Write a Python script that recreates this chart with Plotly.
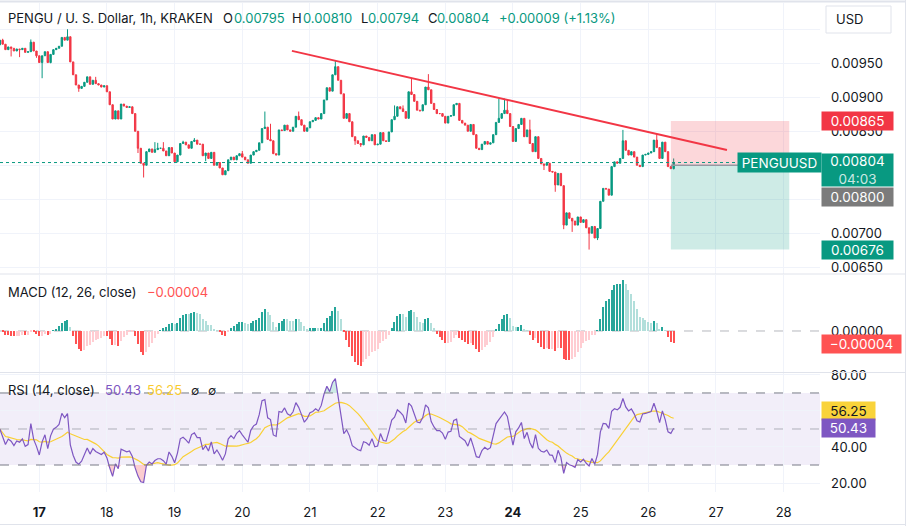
import pandas as pd
import plotly.graph_objects as go
from datetime import datetime, timedelta

# ---------------- data ----------------
first_open = 0.00977
candle_start = datetime(2025, 2, 16, 10)  # first hourly candle
closes_feb16 = [0.00984, 0.00978, 0.00970, 0.00974, 0.00972, 0.00968, 0.00971, 0.00970, 0.00972, 0.00966, 0.00967, 0.00981, 0.00968, 0.00961]
closes_feb17 = [0.00951, 0.00961, 0.00967, 0.00951, 0.00963, 0.00970, 0.00972, 0.00975, 0.00988, 0.00984, 0.00989, 0.00952, 0.00933, 0.00918, 0.00913, 0.00916, 0.00922, 0.00930, 0.00919, 0.00925, 0.00920, 0.00918, 0.00915, 0.00917]
closes_feb18 = [0.00908, 0.00889, 0.00868, 0.00880, 0.00868, 0.00890, 0.00887, 0.00885, 0.00886, 0.00876, 0.00850, 0.00825, 0.00803, 0.00800, 0.00820, 0.00824, 0.00819, 0.00823, 0.00825, 0.00825, 0.00821, 0.00814, 0.00826, 0.00818]
closes_feb19 = [0.00805, 0.00815, 0.00832, 0.00834, 0.00830, 0.00825, 0.00835, 0.00837, 0.00831, 0.00831, 0.00814, 0.00818, 0.00810, 0.00819, 0.00800, 0.00804, 0.00796, 0.00786, 0.00792, 0.00808, 0.00812, 0.00808, 0.00814, 0.00817]
closes_feb20 = [0.00812, 0.00808, 0.00803, 0.00815, 0.00820, 0.00822, 0.00833, 0.00854, 0.00856, 0.00838, 0.00836, 0.00817, 0.00815, 0.00852, 0.00851, 0.00859, 0.00852, 0.00850, 0.00856, 0.00872, 0.00867, 0.00859, 0.00850, 0.00855]
closes_feb21 = [0.00864, 0.00866, 0.00870, 0.00868, 0.00876, 0.00896, 0.00914, 0.00909, 0.00933, 0.00945, 0.00925, 0.00905, 0.00869, 0.00876, 0.00864, 0.00842, 0.00836, 0.00832, 0.00830, 0.00843, 0.00841, 0.00836, 0.00845, 0.00830]
closes_feb22 = [0.00831, 0.00848, 0.00836, 0.00835, 0.00849, 0.00867, 0.00872, 0.00886, 0.00883, 0.00879, 0.00869, 0.00908, 0.00904, 0.00894, 0.00881, 0.00880, 0.00889, 0.00915, 0.00911, 0.00891, 0.00882, 0.00876, 0.00876, 0.00872]
closes_feb23 = [0.00862, 0.00872, 0.00873, 0.00889, 0.00891, 0.00866, 0.00862, 0.00859, 0.00850, 0.00860, 0.00845, 0.00825, 0.00823, 0.00831, 0.00835, 0.00831, 0.00833, 0.00845, 0.00863, 0.00869, 0.00876, 0.00881, 0.00876, 0.00857]
closes_feb24 = [0.00835, 0.00854, 0.00860, 0.00869, 0.00842, 0.00852, 0.00832, 0.00820, 0.00842, 0.00810, 0.00802, 0.00800, 0.00803, 0.00791, 0.00790, 0.00771, 0.00788, 0.00770, 0.00712, 0.00730, 0.00722, 0.00718, 0.00712, 0.00724]
closes_feb25 = [0.00716, 0.00720, 0.00708, 0.00700, 0.00710, 0.00693, 0.00707, 0.00747, 0.00766, 0.00765, 0.00756, 0.00798, 0.00805, 0.00803, 0.00810, 0.00836, 0.00822, 0.00815, 0.00820, 0.00812, 0.00800, 0.00798, 0.00815, 0.00816]
closes_feb26 = [0.00818, 0.00820, 0.00837, 0.00826, 0.00810, 0.00834, 0.00820, 0.00798, 0.00795, 0.00804]

# visible wick extremes (others: no visible wick)
wick_highs = {
    "2025-02-16 11:00": 0.00986, "2025-02-16 21:00": 0.00985, "2025-02-17 10:00": 0.01000,
    "2025-02-17 20:00": 0.00930, "2025-02-18 06:00": 0.00890, "2025-02-18 17:00": 0.00834,
    "2025-02-18 18:00": 0.00833, "2025-02-18 20:00": 0.00834, "2025-02-19 03:00": 0.00836,
    "2025-02-19 07:00": 0.00840, "2025-02-20 00:00": 0.00821, "2025-02-20 08:00": 0.00879,
    "2025-02-20 10:00": 0.00861, "2025-02-20 20:00": 0.00879, "2025-02-21 09:00": 0.00954,
    "2025-02-22 06:00": 0.00888, "2025-02-22 09:00": 0.00888, "2025-02-22 12:00": 0.00928,
    "2025-02-22 18:00": 0.00934, "2025-02-23 19:00": 0.00898, "2025-02-23 21:00": 0.00898,
    "2025-02-23 22:00": 0.00896, "2025-02-24 06:00": 0.00867, "2025-02-25 15:00": 0.00852,
    "2025-02-26 03:00": 0.00846, "2025-02-26 09:00": 0.00810,
}
wick_lows = {
    "2025-02-16 14:00": 0.00960, "2025-02-16 17:00": 0.00959, "2025-02-16 23:00": 0.00958,
    "2025-02-17 01:00": 0.00928, "2025-02-17 04:00": 0.00950, "2025-02-17 14:00": 0.00908,
    "2025-02-18 11:00": 0.00818, "2025-02-18 13:00": 0.00782, "2025-02-19 11:00": 0.00806,
    "2025-02-21 16:00": 0.00830, "2025-02-21 18:00": 0.00827, "2025-02-24 11:00": 0.00793,
    "2025-02-24 15:00": 0.00761, "2025-02-24 18:00": 0.00706, "2025-02-24 21:00": 0.00702,
    "2025-02-25 03:00": 0.00676, "2025-02-25 06:00": 0.00690, "2025-02-26 09:00": 0.00794,
}

price_ticks = [0.00650, 0.00700, 0.00750, 0.00800, 0.00850, 0.00900, 0.00950, 0.01000]
price_ticks_hidden = [0.00750, 0.00800, 0.01000]   # covered by labels in the reference
rsi_ticks = [20, 40, 60, 80]
rsi_ticks_hidden = [60]
day_ticks = [17, 18, 19, 20, 21, 22, 23, 24, 25, 26, 27, 28]
bold_days = [17, 24]
last_price = 0.00804
countdown = "04:03"
trend_points = [(datetime(2025, 2, 20, 17, 36), 0.009682), (datetime(2025, 2, 27, 3, 54), 0.008225)]
position = dict(start=datetime(2025, 2, 26, 8), end=datetime(2025, 2, 28, 2), entry=0.00800, stop=0.00865, target=0.00676)
macd_last = -0.00004
rsi_last, rsi_ma_last = 50.43, 56.25
header_ohlc = dict(O="0.00795", H="0.00810", L="0.00794", C="0.00804", chg="+0.00009 (+1.13%)")

# ---------------- build series ----------------
closes = (closes_feb16 + closes_feb17 + closes_feb18 + closes_feb19 + closes_feb20 + closes_feb21
          + closes_feb22 + closes_feb23 + closes_feb24 + closes_feb25 + closes_feb26)
times = pd.date_range(candle_start, periods=len(closes), freq="h")
opens = [first_open] + closes[:-1]
highs, lows = [], []
for t, o, c in zip(times, opens, closes):
    k = t.strftime("%Y-%m-%d %H:%M")
    highs.append(max(o, c, wick_highs.get(k, 0)))
    lows.append(min(o, c, wick_lows.get(k, 1)))

# MACD (12, 26, 9) histogram
s = pd.Series(closes)
macd = s.ewm(span=12, adjust=False).mean() - s.ewm(span=26, adjust=False).mean()
signal = macd.ewm(span=9, adjust=False).mean()
hist = (macd - signal).tolist()
hist_colors = []
prev = 0.0
for v in hist:
    if v >= 0:
        hist_colors.append("#26A69A" if v > prev else "#B2DFDB")
    else:
        hist_colors.append("#FF5252" if v < prev else "#FFCDD2")
    prev = v

# RSI (14) with Wilder smoothing, neutral start, and its 14-bar SMA
deltas = s.diff().fillna(0).tolist()
seed = sum(abs(d) for d in deltas[1:15]) / 14 / 2
ag, al = seed, seed
rsi = []
for d in deltas:
    ag = (ag * 13 + max(d, 0)) / 14
    al = (al * 13 + max(-d, 0)) / 14
    rsi.append(100 - 100 / (1 + ag / al) if al > 0 else 100)
rsi_ma = pd.Series(rsi).rolling(14, min_periods=1).mean().tolist()

# ---------------- geometry ----------------
W, H = 912, 526
def px(x): return x / W
def py(y): return 1 - y / H

base = datetime(2025, 2, 17)
x_range = [base + timedelta(hours=-13.94), base + timedelta(hours=276.9)]
XD = [0, px(820)]
FONT = "Inter, Roboto, sans-serif"
TXT = "#131722"
UP, DOWN = "#089981", "#F23645"
GRID = "#F0F3FA"

fig = go.Figure()
fig.add_trace(go.Candlestick(
    x=times, open=opens, high=highs, low=lows, close=closes, xaxis="x", yaxis="y",
    increasing=dict(line=dict(color=UP, width=1), fillcolor=UP),
    decreasing=dict(line=dict(color=DOWN, width=1), fillcolor=DOWN),
    whiskerwidth=0, hoverinfo="skip", showlegend=False))

fig.add_trace(go.Bar(x=times, y=hist, marker=dict(color=hist_colors, line=dict(width=0)),
                     width=0.45 * 3600 * 1000, xaxis="x2", yaxis="y2", showlegend=False, hoverinfo="skip"))

fig.add_trace(go.Scatter(x=times, y=[30] * len(rsi), mode="lines", line=dict(width=0), xaxis="x3", yaxis="y3",
                         showlegend=False, hoverinfo="skip"))
fig.add_trace(go.Scatter(x=times, y=[min(v, 30) for v in rsi], mode="lines", line=dict(width=0), fill="tonexty",
                         fillcolor="rgba(242,54,69,0.25)", xaxis="x3", yaxis="y3", showlegend=False, hoverinfo="skip"))
fig.add_trace(go.Scatter(x=times, y=[70] * len(rsi), mode="lines", line=dict(width=0), xaxis="x3", yaxis="y3",
                         showlegend=False, hoverinfo="skip"))
fig.add_trace(go.Scatter(x=times, y=[max(v, 70) for v in rsi], mode="lines", line=dict(width=0), fill="tonexty",
                         fillcolor="rgba(8,153,129,0.2)", xaxis="x3", yaxis="y3", showlegend=False, hoverinfo="skip"))
fig.add_trace(go.Scatter(x=times, y=rsi_ma, mode="lines", line=dict(color="#F9D035", width=1.2), xaxis="x3", yaxis="y3",
                         showlegend=False, hoverinfo="skip"))
fig.add_trace(go.Scatter(x=times, y=rsi, mode="lines", line=dict(color="#7E57C2", width=1.2), xaxis="x3", yaxis="y3",
                         showlegend=False, hoverinfo="skip"))

tickvals = [base + timedelta(days=d - 17) for d in day_ticks]
ticktext = [f"<b>{d}</b>" if d in bold_days else str(d) for d in day_ticks]
price_text = ["" if v in price_ticks_hidden else f"{v:.5f}" for v in price_ticks]
rsi_text = ["" if v in rsi_ticks_hidden else f"{v:.2f}" for v in rsi_ticks]
common_x = dict(range=x_range, showgrid=True, gridcolor=GRID, gridwidth=1, zeroline=False, tickvals=tickvals,
                showline=False, ticks="", fixedrange=True, automargin=False)
fig.update_layout(
    width=W, height=H, margin=dict(l=0, r=0, t=0, b=0, pad=0, autoexpand=False),
    paper_bgcolor="white", plot_bgcolor="white",
    font=dict(family=FONT, color=TXT, size=13), bargap=0,
    xaxis=dict(domain=XD, anchor="y", showticklabels=False, rangeslider=dict(visible=False), **common_x),
    xaxis2=dict(domain=XD, anchor="y2", showticklabels=False, matches="x", **common_x),
    xaxis3=dict(domain=XD, anchor="y3", ticktext=ticktext, ticklabelstandoff=11, matches="x",
                tickfont=dict(size=13, color=TXT), **common_x),
    yaxis=dict(domain=[py(274), py(3)], anchor="x", side="right", range=[0.006401, 0.010386],
               tickvals=price_ticks, ticktext=price_text, showgrid=True, gridcolor=GRID, zeroline=False,
               ticks="", ticklabelstandoff=10, tickfont=dict(size=13, color=TXT), fixedrange=True, automargin=False),
    yaxis2=dict(domain=[py(372), py(275)], anchor="x2", side="right", range=[-0.000126, 0.000172],
                tickvals=[0], tickformat=".5f", showgrid=False, zeroline=False, ticks="",
                ticklabelstandoff=10, tickfont=dict(size=13, color=TXT), fixedrange=True, automargin=False),
    yaxis3=dict(domain=[py(492), py(373)], anchor="x3", side="right", range=[15, 81.1],
                tickvals=rsi_ticks, ticktext=rsi_text, showgrid=True, gridcolor=GRID, zeroline=False,
                ticks="", ticklabelstandoff=10, tickfont=dict(size=13, color=TXT), fixedrange=True, automargin=False),
)

shapes = []
# RSI band and levels
shapes.append(dict(type="rect", xref="x3 domain", yref="y3", x0=0, x1=1, y0=30, y1=70,
                   fillcolor="rgba(126,87,194,0.1)", line=dict(width=0), layer="below"))
for lvl, col in [(70, "#787B86"), (30, "#787B86"), (50, "rgba(120,123,134,0.55)")]:
    shapes.append(dict(type="line", xref="x3 domain", yref="y3", x0=0, x1=1, y0=lvl, y1=lvl,
                       line=dict(color=col, width=1, dash="dash")))
# MACD zero line
shapes.append(dict(type="line", xref="x2 domain", yref="y2", x0=0, x1=1, y0=0, y1=0,
                   line=dict(color="rgba(120,123,134,0.55)", width=1, dash="dash"), layer="below"))
# position tool
shapes.append(dict(type="rect", xref="x", yref="y", x0=position["start"], x1=position["end"],
                   y0=position["entry"], y1=position["stop"], fillcolor="rgba(242,54,69,0.2)", line=dict(width=0)))
shapes.append(dict(type="rect", xref="x", yref="y", x0=position["start"], x1=position["end"],
                   y0=position["target"], y1=position["entry"], fillcolor="rgba(8,153,129,0.2)", line=dict(width=0)))
shapes.append(dict(type="line", xref="x", yref="y", x0=position["start"], x1=position["end"],
                   y0=position["entry"], y1=position["entry"], line=dict(color="#9598A1", width=1.5)))
# current price dotted line
shapes.append(dict(type="line", xref="x domain", yref="y", x0=0, x1=1, y0=last_price, y1=last_price,
                   line=dict(color=UP, width=1, dash="dot")))
# trend line
shapes.append(dict(type="line", xref="x", yref="y", x0=trend_points[0][0], y0=trend_points[0][1],
                   x1=trend_points[1][0], y1=trend_points[1][1], line=dict(color=DOWN, width=2)))
# pane separators and borders
for yy in [274, 372.5]:
    shapes.append(dict(type="line", xref="paper", yref="paper", x0=0, x1=px(906), y0=py(yy), y1=py(yy),
                       line=dict(color="#E0E3EB", width=1)))
shapes.append(dict(type="line", xref="paper", yref="paper", x0=0, x1=px(906), y0=py(1.5), y1=py(1.5),
                   line=dict(color="#E0E3EB", width=2)))
shapes.append(dict(type="line", xref="paper", yref="paper", x0=px(905.5), x1=px(905.5), y0=0, y1=1,
                   line=dict(color="#E0E3EB", width=1)))
shapes.append(dict(type="line", xref="paper", yref="paper", x0=0, x1=px(906), y0=py(524.5), y1=py(524.5),
                   line=dict(color="#E0E3EB", width=1)))
# currency selector box
shapes.append(dict(type="rect", xref="paper", yref="paper", x0=px(826), x1=px(891), y0=py(33), y1=py(6),
                   fillcolor="white", line=dict(color="#E0E3EB", width=1)))
fig.update_layout(shapes=shapes)

ann = []
def text(x, y, s, color=TXT, size=13):
    ann.append(dict(xref="paper", yref="paper", x=px(x), y=py(y), text=s, showarrow=False,
                    xanchor="left", yanchor="middle", font=dict(color=color, size=size)))

# header rows
text(6, 18, "PENGU / U. S. Dollar, 1h, KRAKEN")
text(221, 18, "O"); text(232, 18, header_ohlc["O"], UP)
text(290, 18, "H"); text(301, 18, header_ohlc["H"], UP)
text(359, 18, "L"); text(366, 18, header_ohlc["L"], UP)
text(426, 18, "C"); text(435, 18, header_ohlc["C"], UP)
text(497, 18, header_ohlc["chg"], UP)
text(6, 292, "MACD (12, 26, close)")
text(145, 292, f"\u2212{abs(macd_last):.5f}", "#FF5252")
text(6, 390, "RSI (14, close)")
text(103, 390, f"{rsi_last:.2f}", "#7E57C2")
text(145, 390, f"{rsi_ma_last:.2f}", "#F9CB2F")
text(189, 390, "\u2205", "#131722", 12)
text(206, 390, "\u2205", "#131722", 12)
text(834, 19.5, "USD", TXT, 13)

def tag(y, s, bg, fg="white", yref="paper", x0=821, w=71, h=18):
    ann.append(dict(xref="paper", yref=yref, x=px(x0), y=y, text=s, showarrow=False, xanchor="left",
                    yanchor="middle", width=w, height=h, align="center", bgcolor=bg,
                    font=dict(color=fg, size=13.5), borderpad=0))

tag(position["stop"], f"{position['stop']:.5f}", DOWN, yref="y")
tag(py(170), f"{last_price:.5f}<br><span style='color:rgba(255,255,255,0.8)'>{countdown}</span>", UP, h=32)
tag(py(197), f"{position['entry']:.5f}", "#7B7B7B")
tag(position["target"], f"{position['target']:.5f}", UP, yref="y")
tag(py(162.5), "PENGUUSD", UP, x0=737, w=83, h=19)
tag(macd_last, f"\u2212{abs(macd_last):.5f}", "#FF5252", yref="y2", w=79)
tag(py(410.5), f"{rsi_ma_last:.2f}", "#F9D33A", fg=TXT, w=53)
tag(rsi_last, f"{rsi_last:.2f}", "#7E57C2", yref="y3", w=53)
fig.update_layout(annotations=ann)

fig.write_html("out.html")
